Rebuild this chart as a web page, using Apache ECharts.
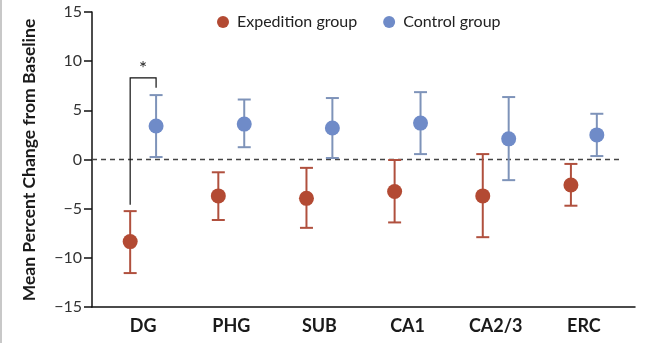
<!DOCTYPE html>
<html><head><meta charset="utf-8">
<script src="https://cdn.jsdelivr.net/npm/echarts@6/dist/echarts.min.js"></script>
<style>html,body{margin:0;padding:0;background:#fff}#c{width:650px;height:343px}</style>
</head><body><div id="c"></div>
<script>
const categories = ['DG', 'PHG', 'SUB', 'CA1', 'CA2/3', 'ERC'];
const expMean  = [-8.35, -3.7, -3.95, -3.25, -3.7, -2.6];
const expLow   = [-11.55, -6.15, -6.95, -6.4, -7.9, -4.7];
const expHigh  = [-5.25, -1.3, -0.85, -0.05, 0.55, -0.45];
const ctlMean  = [3.4, 3.6, 3.2, 3.7, 2.1, 2.5];
const ctlLow   = [0.25, 1.25, 0.15, 0.55, -2.1, 0.35];
const ctlHigh  = [6.55, 6.1, 6.25, 6.85, 6.35, 4.65];
const yTicks = [-15, -10, -5, 0, 5, 10, 15];
const bracket = { left: -4.6, top: 8.3, right: 7.3 }; // DG significance bracket
const bracketLabel = '*';

const OFF = 0.147;
const RED = '#b34a33', RED_BAR = '#b0503e', BLUE = '#6f8bc8', BLUE_BAR = '#7e93b9';
const FONT = 'Lato';

const expPts = expMean.map((v, i) => [i - OFF, v]);
const ctlPts = ctlMean.map((v, i) => [i + OFF, v]);
const expBars = expMean.map((v, i) => [i - OFF, expLow[i], expHigh[i]]);
const ctlBars = ctlMean.map((v, i) => [i + OFF, ctlLow[i], ctlHigh[i]]);

function errRender(color) {
  return function (params, api) {
    const x = api.value(0);
    const lo = api.coord([x, api.value(1)]);
    const hi = api.coord([x, api.value(2)]);
    const hw = 6.5;
    const st = { stroke: color, lineWidth: 2, fill: null };
    return { type: 'group', children: [
      { type: 'line', shape: { x1: lo[0], y1: lo[1], x2: hi[0], y2: hi[1] }, style: st },
      { type: 'line', shape: { x1: lo[0] - hw, y1: lo[1], x2: lo[0] + hw, y2: lo[1] }, style: st },
      { type: 'line', shape: { x1: hi[0] - hw, y1: hi[1], x2: hi[0] + hw, y2: hi[1] }, style: st }
    ]};
  };
}

const chart = echarts.init(document.getElementById('c'), null, { renderer: 'canvas' });
chart.setOption({
  animation: false,
  backgroundColor: '#fff',
  textStyle: { fontFamily: FONT },
  grid: { left: 92, right: 15, top: 12, bottom: 36 },
  legend: {
    data: ['Expedition group', 'Control group'],
    left: 212, top: 9, icon: 'circle', itemWidth: 12, itemHeight: 12, itemGap: 26,
    textStyle: { fontFamily: FONT, fontSize: 16, color: '#222', padding: [0, 0, 0, 3] }
  },
  xAxis: {
    type: 'value', min: -0.58, max: 5.58,
    axisLine: { onZero: false, lineStyle: { color: '#111', width: 1.5 } },
    axisTick: { show: false }, splitLine: { show: false },
    axisLabel: {
      customValues: categories.map((c, i) => i),
      formatter: v => categories[Math.round(v)] || '',
      fontFamily: FONT, fontWeight: 'bold', fontSize: 18, color: '#1a1a1a', margin: 10
    }
  },
  yAxis: {
    type: 'value', min: -15, max: 15, interval: 5,
    axisLine: { show: true, onZero: false, lineStyle: { color: '#111', width: 1.5 } },
    axisTick: { show: true, length: 8, lineStyle: { color: '#111', width: 1.5 } },
    splitLine: { show: false },
    axisLabel: {
      formatter: v => (v < 0 ? '\u2212' + Math.abs(v) : String(v)),
      fontFamily: FONT, fontSize: 16, color: '#333', margin: 10
    }
  },
  graphic: [
    { type: 'text', x: 29, y: 160, rotation: Math.PI / 2,
      style: { text: 'Mean Percent Change from Baseline', font: 'bold 17.5px ' + FONT, fill: '#1a1a1a',
               align: 'center', verticalAlign: 'middle' } },
    { type: 'rect', shape: { x: 0, y: 0, width: 2, height: 343 }, style: { fill: '#c8c8c8' } }
  ],
  series: [
    { type: 'line', data: [[-0.58, 0], [5.42, 0]], symbol: 'none', silent: true,
      lineStyle: { color: '#444', width: 1.5, type: [5, 4] }, z: 1 },
    { type: 'custom', name: 'expErr', data: expBars, renderItem: errRender(RED_BAR), z: 2, silent: true },
    { type: 'custom', name: 'ctlErr', data: ctlBars, renderItem: errRender(BLUE_BAR), z: 2, silent: true },
    { type: 'scatter', name: 'Expedition group', data: expPts, symbolSize: 15,
      itemStyle: { color: RED, opacity: 1 }, z: 3 },
    { type: 'scatter', name: 'Control group', data: ctlPts, symbolSize: 15,
      itemStyle: { color: BLUE, opacity: 1 }, z: 3 },
    { type: 'custom', name: 'bracket', data: [[0, bracket.left, bracket.top, bracket.right]], silent: true, z: 4,
      renderItem: function (params, api) {
        const a = api.coord([-OFF, api.value(1)]);
        const t = api.coord([-OFF, api.value(2)]);
        const b = api.coord([OFF, api.value(2)]);
        const c = api.coord([OFF, api.value(3)]);
        return { type: 'group', children: [
          { type: 'polyline', shape: { points: [a, t, b, c] }, style: { stroke: '#111', lineWidth: 1.2, fill: null } },
          { type: 'text', x: (t[0] + b[0]) / 2, y: t[1] - 9,
            style: { text: bracketLabel, font: '19px ' + FONT, fill: '#222', align: 'center', verticalAlign: 'middle' } }
        ]};
      } }
  ]
});
</script></body></html>
